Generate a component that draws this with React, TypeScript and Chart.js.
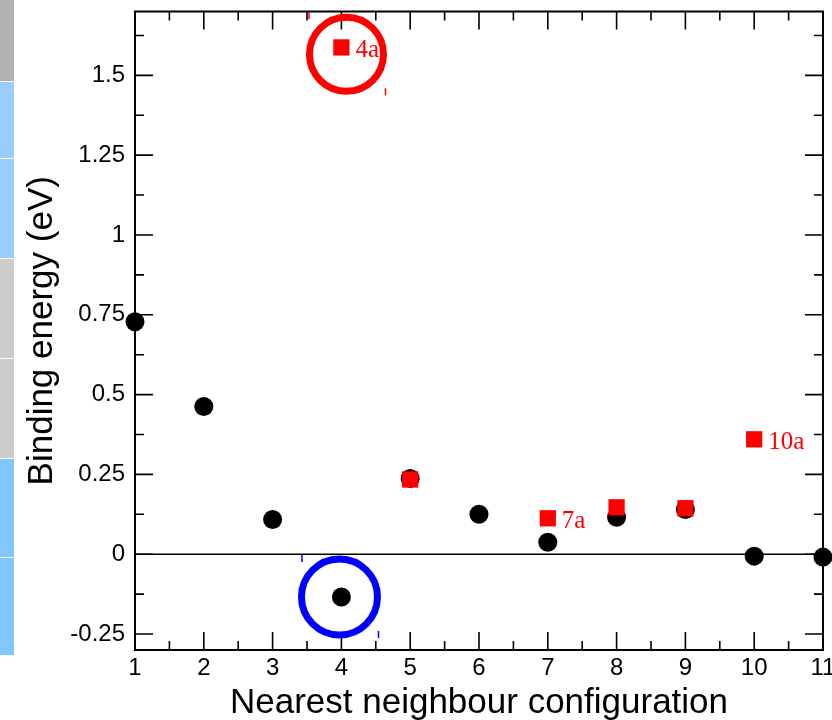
import React, { useEffect, useRef } from "react";
import { Chart, registerables } from "chart.js";

Chart.register(...registerables);

// ---- data ----
const configs = [1, 2, 3, 4, 5, 6, 7, 8, 9, 10, 11];
const blackValues = [0.728, 0.4625, 0.109, -0.134, 0.2375, 0.125, 0.0375, 0.116, 0.14, -0.006, -0.009];
const redConfigs = [4, 5, 7, 8, 9, 10];
const redValues = [1.5875, 0.234, 0.1125, 0.147, 0.144, 0.36];
const redLabels = ["4a", "", "7a", "", "", "10a"];
const xTickValues = [1, 2, 3, 4, 5, 6, 7, 8, 9, 10, 11];
const xTickLabels = ["1", "2", "3", "4", "5", "6", "7", "8", "9", "10", "11"];
const yTickValues = [-0.25, 0, 0.25, 0.5, 0.75, 1, 1.25, 1.5];
const yTickLabels = ["-0.25", "0", "0.25", "0.5", "0.75", "1", "1.25", "1.5"];
const redRing = { x: 4.074, y: 1.566 };
const blueRing = { x: 3.972, y: -0.134 };

// left decorative strip
const stripColors = ["#b1b1b1", "#99ccff", "#99ccff", "#cccccc", "#cccccc", "#80c6ff", "#80c6ff"];
const stripEdges = [0, 82, 159, 259, 359, 459, 558, 656];

const W = 880;
const H = 720;

const framePlugin = {
  id: "frame",
  beforeDatasetsDraw(chart: any) {
    const ctx = chart.ctx;
    const { left, right, top, bottom } = chart.chartArea;
    const xs = chart.scales.x;
    const ys = chart.scales.y;
    ctx.save();
    ctx.strokeStyle = "#000";
    // zero line
    const y0 = ys.getPixelForValue(0);
    ctx.lineWidth = 1.6;
    ctx.beginPath();
    ctx.moveTo(left, y0);
    ctx.lineTo(right, y0);
    ctx.stroke();
    // frame
    ctx.lineWidth = 2;
    ctx.strokeRect(left, top, right - left, bottom - top);
    // x ticks
    ctx.lineWidth = 1.6;
    ctx.beginPath();
    for (let i = 0; i < xTickValues.length; i++) {
      const v = xTickValues[i];
      const px = xs.getPixelForValue(v);
      ctx.moveTo(px, bottom);
      ctx.lineTo(px, bottom - 18);
      ctx.moveTo(px, top);
      ctx.lineTo(px, top + 18);
      if (i < xTickValues.length - 1) {
        const pm = xs.getPixelForValue((v + xTickValues[i + 1]) / 2);
        ctx.moveTo(pm, bottom);
        ctx.lineTo(pm, bottom - 9);
        ctx.moveTo(pm, top);
        ctx.lineTo(pm, top + 9);
      }
    }
    // y ticks
    const minors: number[] = [];
    for (let i = 0; i < yTickValues.length; i++) {
      minors.push(yTickValues[i] - 0.125);
      minors.push(yTickValues[i] + 0.125);
    }
    for (const v of yTickValues) {
      const py = ys.getPixelForValue(v);
      ctx.moveTo(left, py);
      ctx.lineTo(left + 18, py);
      ctx.moveTo(right, py);
      ctx.lineTo(right - 18, py);
    }
    for (const v of minors) {
      if (v <= ys.min || v >= ys.max) continue;
      const py = ys.getPixelForValue(v);
      ctx.moveTo(left, py);
      ctx.lineTo(left + 9, py);
      ctx.moveTo(right, py);
      ctx.lineTo(right - 9, py);
    }
    ctx.stroke();
    ctx.restore();
  },
  afterDatasetsDraw(chart: any) {
    const ctx = chart.ctx;
    const xs = chart.scales.x;
    const ys = chart.scales.y;
    ctx.save();
    // labels for red squares
    ctx.fillStyle = "#ff0000";
    ctx.font = '25px "Liberation Serif", "DejaVu Serif", serif';
    ctx.textBaseline = "middle";
    ctx.textAlign = "left";
    for (let i = 0; i < redConfigs.length; i++) {
      if (!redLabels[i]) continue;
      const px = xs.getPixelForValue(redConfigs[i]);
      const py = ys.getPixelForValue(redValues[i]);
      ctx.fillText(redLabels[i], px + 14, py + 3);
    }
    // rings
    const rings = [
      { p: redRing, color: "#ff0000", r: 37 },
      { p: blueRing, color: "#0000ff", r: 38 },
    ];
    for (const ring of rings) {
      const cx = xs.getPixelForValue(ring.p.x);
      const cy = ys.getPixelForValue(ring.p.y);
      ctx.strokeStyle = ring.color;
      ctx.lineWidth = 7;
      ctx.beginPath();
      ctx.arc(cx, cy, ring.r, 0, Math.PI * 2);
      ctx.stroke();
      ctx.lineWidth = 1.5;
      ctx.beginPath();
      ctx.moveTo(cx - 37.5, cy - 42);
      ctx.lineTo(cx - 37.5, cy - 35);
      ctx.moveTo(cx + 39, cy + 34);
      ctx.lineTo(cx + 39, cy + 41);
      ctx.stroke();
    }
    ctx.restore();
  },
};

export default function App() {
  const ref = useRef<HTMLCanvasElement | null>(null);

  useEffect(() => {
    if (!ref.current) return;
    const chart = new Chart(ref.current, {
      type: "scatter",
      data: {
        datasets: [
          {
            label: "a",
            data: redConfigs.map((x, i) => ({ x, y: redValues[i] })),
            backgroundColor: "#ff0000",
            borderWidth: 0,
            pointStyle: "rect",
            pointRadius: 11.5,
            order: 0,
            clip: false,
          } as any,
          {
            label: "b",
            data: configs.map((x, i) => ({ x, y: blackValues[i] })),
            backgroundColor: "#000000",
            borderWidth: 0,
            pointStyle: "circle",
            pointRadius: 9.5,
            order: 1,
            clip: false,
          } as any,
        ],
      },
      options: {
        responsive: false,
        animation: false,
        events: [],
        layout: { padding: { top: 10, right: W - 823, left: 0, bottom: 0 } },
        plugins: { legend: { display: false }, tooltip: { enabled: false } },
        scales: {
          x: {
            type: "linear",
            min: 1,
            max: 11,
            grid: { display: false, drawTicks: false, tickLength: 0 },
            border: { display: false },
            afterBuildTicks: (scale: any) => {
              scale.ticks = xTickValues.map((v) => ({ value: v }));
            },
            ticks: {
              color: "#000",
              padding: 4,
              maxRotation: 0,
              autoSkip: false,
              font: { family: '"Liberation Sans", Arial, sans-serif', size: 24 },
              callback: (v: any) => {
                const i = xTickValues.indexOf(Number(v));
                return i >= 0 ? xTickLabels[i] : "";
              },
            },
            title: {
              display: true,
              text: "Nearest neighbour configuration",
              color: "#000",
              font: { family: '"Liberation Sans", Arial, sans-serif', size: 35 },
              padding: { top: 0, bottom: -4 },
            },
            afterFit: (scale: any) => {
              scale.height = 70;
              scale.paddingLeft = 0;
              scale.paddingRight = 0;
              scale.paddingTop = 0;
              scale.paddingBottom = 0;
            },
          },
          y: {
            type: "linear",
            min: -0.3,
            max: 1.7,
            grid: { display: false, drawTicks: false, tickLength: 0 },
            border: { display: false },
            afterBuildTicks: (scale: any) => {
              scale.ticks = yTickValues.map((v) => ({ value: v }));
            },
            ticks: {
              color: "#000",
              padding: 10,
              autoSkip: false,
              font: { family: '"Liberation Sans", Arial, sans-serif', size: 24 },
              callback: (v: any) => {
                const i = yTickValues.findIndex((t) => Math.abs(t - Number(v)) < 1e-6);
                return i >= 0 ? yTickLabels[i] : "";
              },
            },
            title: {
              display: true,
              text: "Binding energy (eV)",
              color: "#000",
              font: { family: '"Liberation Sans", Arial, sans-serif', size: 35 },
              padding: { top: 21, bottom: 0 },
            },
            afterFit: (scale: any) => {
              scale.width = 135;
              scale.paddingLeft = 0;
              scale.paddingRight = 0;
              scale.paddingTop = 0;
              scale.paddingBottom = 0;
            },
          },
        },
      },
      plugins: [framePlugin],
    });
    return () => chart.destroy();
  }, []);

  return (
    <div
      style={{
        position: "fixed",
        left: 0,
        top: 0,
        width: 832,
        height: 720,
        overflow: "hidden",
        background: "#fff",
      }}
    >
      <canvas ref={ref} width={W} height={H} style={{ position: "absolute", left: 0, top: 0, width: W, height: H }} />
      {stripColors.map((c, i) => (
        <div
          key={i}
          style={{
            position: "absolute",
            left: 0,
            width: 14,
            top: stripEdges[i],
            height: stripEdges[i + 1] - stripEdges[i] - 1,
            background: c,
          }}
        />
      ))}
    </div>
  );
}
